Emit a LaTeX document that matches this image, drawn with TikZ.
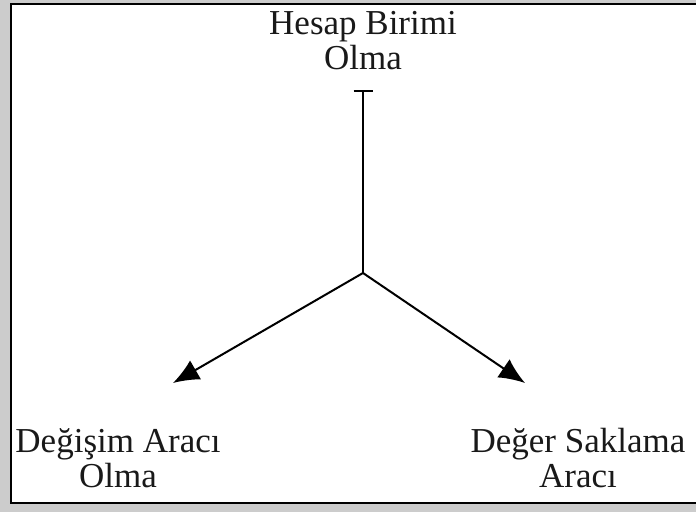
\documentclass[tikz,border=0pt]{standalone}
\usepackage{fontspec}
\setmainfont{Liberation Serif}
\usetikzlibrary{arrows.meta}

\begin{document}
\begin{tikzpicture}[x=1pt,y=1pt]
        % Define styles
        \tikzstyle{textlabel} = [inner sep=0pt, align=center, font=\fontsize{35}{35}\selectfont, text=black!90]
        \tikzstyle{arrow} = [line width=2pt, -{Latex[length=26pt,width=22pt]}]
        \tikzstyle{stem} = [line width=2pt, {Bar[width=19pt]}-]

        % Frame
        \useasboundingbox (0,0) rectangle (696,512);
        \fill[gray!40] (0,0) rectangle (696,512);
        \draw[line width=2.2pt, fill=white] (11,9) rectangle (710,508);

        % Nodes
        \node (unit) [textlabel, anchor=base] at (363,442) {Hesap Birimi\\Olma};
        \node (exchange) [textlabel, anchor=base] at (118,25) {Değişim Aracı\\Olma};
        \node (store) [textlabel, anchor=base] at (578,25) {Değer Saklama\\Aracı};
        \coordinate (top) at (363,422);
        \coordinate (hub) at (363,239);
        \coordinate (lefttip) at (173,129);
        \coordinate (righttip) at (525,129);

        % Arrows
        \draw [stem] (top) -- (hub);
        \draw [arrow] (hub) -- (lefttip);
        \draw [arrow] (hub) -- (righttip);
\end{tikzpicture}
\end{document}
